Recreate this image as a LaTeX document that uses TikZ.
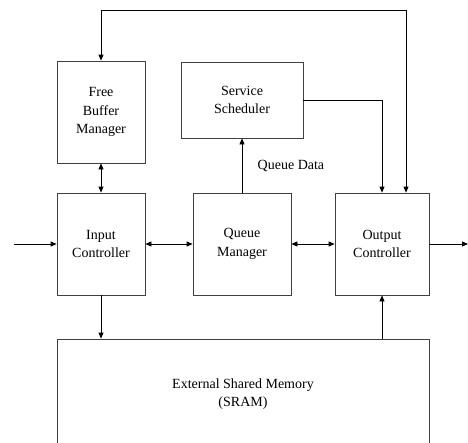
\documentclass[tikz,border=0pt]{standalone}
\usepackage{fontspec}
\setmainfont{Liberation Serif}
\usetikzlibrary{arrows.meta,calc}

\begin{document}
\begin{tikzpicture}[x=1pt, y=-1pt, >={Triangle[length=6pt,width=5pt]},
		block/.style={draw=black!75, line width=0.8pt, align=center, inner sep=0pt,
			font=\fontsize{14}{18.5}\selectfont},
		link/.style={line width=0.8pt}]
			\useasboundingbox (0,0) rectangle (468,442);
			
			\node[block, minimum width=88pt, minimum height=102pt] (fbm) at (101,112) {Free\\Buffer\\Manager};
			\node[block, minimum width=122pt, minimum height=76pt] (sched) at (242,100) {Service\\Scheduler};
			
			\node[block, minimum width=88pt, minimum height=102pt] (inctl) at (101,244) {Input\\Controller};
			\node[block, minimum width=98pt, minimum height=102pt] (qmgr) at (242,244) {Queue\\Manager};
			\node[block, minimum width=94pt, minimum height=102pt] (outctl) at (382,244) {Output\\Controller};
			
			\node[block, minimum width=372pt, minimum height=110pt] (mem) at (243,394) {External Shared Memory\\(SRAM)};
			
			\coordinate (in) at (14,244);
			\coordinate (out) at (468,244);
			\coordinate (top) at (406,10);
			
			\draw[link, ->] (in) -- (inctl.west);
			\draw[link, ->] (outctl.east) -- (out);
			
			\foreach \from / \to in {inctl/qmgr, qmgr/outctl}
				\draw[link, <->] (\from.east) -- (\to.west);
			
			\draw[link, <->] (fbm.south) -- (inctl.north);
			\draw[link, <->] (fbm.north) |- (top) -- (top |- outctl.north);
			\draw[link, ->] (sched.east) -| (outctl.north);
			\draw[link, ->] (qmgr.north) -- node[right=12pt, font=\fontsize{14}{18.5}\selectfont, pos=0.5] {Queue Data} (qmgr.north |- sched.south);
			
			\draw[link, ->] (inctl.south) -- (inctl.south |- mem.north);
			\draw[link, ->] (mem.north -| outctl.south) -- (outctl.south);
		\end{tikzpicture}
\end{document}
